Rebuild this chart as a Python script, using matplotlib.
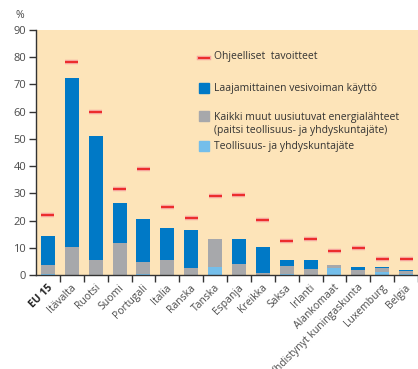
import matplotlib
matplotlib.use("Agg")
import matplotlib.pyplot as plt
import matplotlib.transforms as mtransforms
import numpy as np
from matplotlib.patches import Rectangle
from matplotlib.lines import Line2D

countries = ["EU 15", "Itävalta", "Ruotsi", "Suomi", "Portugali", "Italia", "Ranska",
             "Tanska", "Espanja", "Kreikka", "Saksa", "Irlanti", "Alankomaat",
             "Yhdistynyt kuningaskunta", "Luxemburg", "Belgia"]
waste = [0.3, 0.0, 0.0, 0.0, 0.3, 0.0, 0.0, 2.9, 0.0, 0.0, 0.4, 0.0, 2.7, 0.0, 1.1, 0.4]
other = [3.4, 10.3, 5.5, 11.8, 4.5, 5.5, 2.6, 10.3, 4.0, 0.8, 2.9, 2.2, 1.0, 1.8, 1.5, 1.0]
hydro = [10.6, 62.1, 45.6, 14.7, 15.8, 11.8, 13.9, 0.0, 9.2, 9.5, 2.2, 3.3, 0.0, 1.1, 0.3, 0.4]
targets = [22.1, 78.1, 60.0, 31.5, 39.0, 25.0, 21.0, 29.0, 29.4, 20.1, 12.5, 13.2, 9.0, 10.0, 5.7, 6.0]

legend_labels = ["Ohjeelliset  tavoitteet", "Laajamittainen vesivoiman käyttö",
                 "Kaikki muut uusiutuvat energialähteet\n(paitsi teollisuus- ja yhdyskuntajäte)",
                 "Teollisuus- ja yhdyskuntajäte"]

BG = "#FDE4B9"
BLUE = "#0079C6"
GREY = "#A7A8AB"
LBLUE = "#74BEEA"
RED = "#EC2A2A"
HALO = "#F6A39C"
TXT = "#4A4A4A"

plt.rcParams['font.family'] = ['Open Sans', 'DejaVu Sans']

W, H = 418, 369
fig = plt.figure(figsize=(W / 100, H / 100), dpi=100)
ax_l, ax_r, ax_t, ax_b = 36, 418, 30, 275
ax = fig.add_axes([ax_l / W, (H - ax_b) / H, (ax_r - ax_l) / W, (ax_b - ax_t) / H])
ax.set_facecolor(BG)

x = np.arange(len(countries))
bw = 14 / 24
w = np.array(waste)
o = np.array(other)
h = np.array(hydro)
ax.bar(x, w, bw, color=LBLUE, zorder=2)
ax.bar(x, o, bw, bottom=w, color=GREY, zorder=2)
ax.bar(x, h, bw, bottom=w + o, color=BLUE, zorder=2)
ax.hlines(targets, x - bw / 2 + 0.02, x + bw / 2 - 0.02, color=HALO, lw=3.2, zorder=3)
ax.hlines(targets, x - bw / 2 + 0.02, x + bw / 2 - 0.02, color=RED, lw=1.4, zorder=4)

ax.set_xlim(-0.5, -0.5 + (ax_r - ax_l) / 24)
ax.set_ylim(0, 90)
ax.set_yticks(np.arange(0, 91, 10))
ax.tick_params(axis='y', direction='out', length=5, width=1, color="#333333",
               labelsize=8, labelcolor=TXT, pad=2)
ax.set_xticks(x)
ax.set_xticklabels(countries)
ax.set_xticks(np.arange(0.5, len(countries), 1), minor=True)
ax.tick_params(axis='x', which='major', length=0, pad=8)
ax.tick_params(axis='x', which='minor', direction='out', length=5, width=1, color="#333333")
shift = mtransforms.ScaledTranslation(3 / 100, 0, fig.dpi_scale_trans)
for i, lab in enumerate(ax.get_xticklabels()):
    lab.set_rotation(45)
    lab.set_rotation_mode('anchor')
    lab.set_ha('right')
    lab.set_va('center')
    lab.set_fontsize(7.5)
    lab.set_color(TXT)
    lab.set_transform(lab.get_transform() + shift)
    if i == 0:
        lab.set_fontweight('bold')
        lab.set_color("#222222")
for s in ['top', 'right']:
    ax.spines[s].set_visible(False)
for s in ['left', 'bottom']:
    ax.spines[s].set_color("#333333")
    ax.spines[s].set_linewidth(1)

fig.text(16 / W, 1 - 15 / H, "%", fontsize=7.5, color=TXT, va='center', ha='left')

# legend (manual layout)
def ax_xy(px, py):
    return (px - ax_l) / (ax_r - ax_l), (ax_b - py) / (ax_b - ax_t)

tx = 214
ax.add_line(Line2D([ax_xy(199, 0)[0], ax_xy(209, 0)[0]], [ax_xy(0, 58)[1]] * 2,
                   transform=ax.transAxes, color=HALO, lw=3.2, zorder=5))
ax.add_line(Line2D([ax_xy(199, 0)[0], ax_xy(209, 0)[0]], [ax_xy(0, 58)[1]] * 2,
                   transform=ax.transAxes, color=RED, lw=1.4, zorder=6))
for col, cy in [(BLUE, 88), (GREY, 116), (LBLUE, 146)]:
    x0, y0 = ax_xy(199, cy + 5)
    x1, y1 = ax_xy(209, cy - 5)
    ax.add_patch(Rectangle((x0, y0), x1 - x0, y1 - y0, transform=ax.transAxes,
                           color=col, zorder=5))
for lab, cy in zip(legend_labels, [57, 88, 124, 147]):
    px, py = ax_xy(tx, cy)
    ax.text(px, py, lab, transform=ax.transAxes, fontsize=7.5, color="#333333",
            va='center', ha='left', linespacing=1.3, zorder=6)

fig.savefig("out.png", dpi=100)
